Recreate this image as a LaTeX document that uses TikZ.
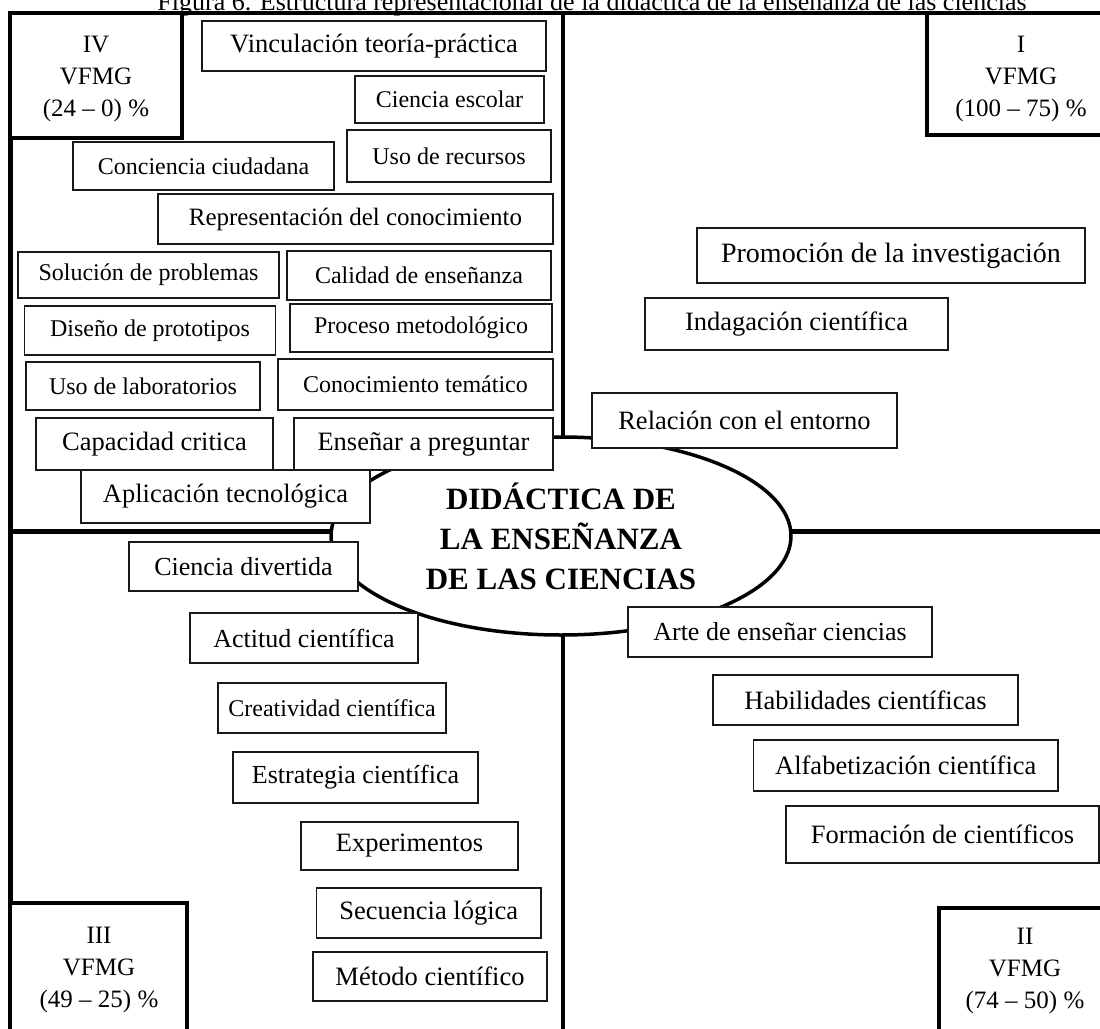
\documentclass[tikz,border=0pt]{standalone}
\usepackage{fontspec}
\setmainfont{Liberation Serif}
\usetikzlibrary{shapes.geometric}
\newcommand\fsz[1]{\fontsize{#1}{#1}\selectfont}

\begin{document}
\begin{tikzpicture}[x=1pt,y=-1pt,
  rule/.style={line width=4.5pt},
  card/.style={draw=black!90, line width=1.8pt, fill=white, inner sep=0pt, align=center},
  zone/.style={draw, line width=4.5pt, fill=white, inner sep=0pt},
  zonetext/.style={inner sep=0pt, align=center, font=\fontsize{25}{32}\selectfont},
  core/.style={ellipse, draw, line width=3.5pt, fill=white, inner sep=0pt, align=center,
    font=\fontsize{31}{40}\selectfont\bfseries}]

\useasboundingbox (0,0) rectangle (1100,1028);
\clip (0,0) rectangle (1100,1028);

% caption line
\node[anchor=base, font=\fsz{26}, inner sep=0pt] (caption) at (592,10)
  {Figura 6. Estructura representacional de la didáctica de la enseñanza de las ciencias};

% frame and quadrant axes
\coordinate (fbl) at (10.5,1040);
\coordinate (ftl) at (10.5,13);
\coordinate (ftr) at (1110,13);
\coordinate (vtop) at (563,13);
\coordinate (vbot) at (563,1040);
\coordinate (hleft) at (10.5,531.5);
\coordinate (hright) at (1110,531.5);
\draw[rule] (fbl) -- (ftl) -- (ftr);
\draw[rule] (vtop) -- (vbot);
\draw[rule] (hleft) -- (hright);

% central ellipse
\node[core, minimum width=460pt, minimum height=198pt] (core) at (561,536)
  {DIDÁCTICA DE\\LA ENSEÑANZA\\DE LAS CIENCIAS};

% quadrant IV
\node[card, minimum width=344pt, minimum height=50pt, font=\fsz{26.5}] (vinc) at (374,46) {Vinculación teoría-práctica};
\node[card, minimum width=189pt, minimum height=47pt, font=\fsz{24}] (escolar) at (449.5,99.5) {Ciencia escolar};
\node[card, minimum width=204pt, minimum height=52pt, font=\fsz{24}] (recursos) at (449,156) {Uso de recursos};
\node[card, minimum width=261pt, minimum height=48pt, font=\fsz{24}] (conciencia) at (203.5,166) {Conciencia ciudadana};
\node[card, minimum width=395pt, minimum height=50pt, font=\fsz{25}] (represent) at (355.5,219) {Representación del conocimiento};
\node[card, minimum width=261pt, minimum height=46pt, font=\fsz{24}] (solucion) at (148.5,275) {Solución de problemas};
\node[card, minimum width=264pt, minimum height=49pt, font=\fsz{24}] (calidad) at (419,275.5) {Calidad de enseñanza};
\node[card, minimum width=251pt, minimum height=49pt, font=\fsz{24}] (diseno) at (150,330.5) {Diseño de prototipos};
\node[card, minimum width=262pt, minimum height=48pt, font=\fsz{24}] (proceso) at (421,328) {Proceso metodológico};
\node[card, minimum width=234pt, minimum height=48pt, font=\fsz{24}] (labs) at (143,386) {Uso de laboratorios};
\node[card, minimum width=275pt, minimum height=51pt, font=\fsz{24}] (tematico) at (415.5,384.5) {Conocimiento temático};
\node[card, minimum width=237pt, minimum height=52pt, font=\fsz{26.5}] (critica) at (154.5,444) {Capacidad critica};
\node[card, minimum width=259pt, minimum height=52pt, font=\fsz{26.5}] (preguntar) at (423.5,444) {Enseñar a preguntar};
\node[card, minimum width=289pt, minimum height=53pt, font=\fsz{26.5}] (aplicacion) at (225.5,496.5) {Aplicación tecnológica};

% quadrant I
\node[card, minimum width=388pt, minimum height=55pt, font=\fsz{28}] (promocion) at (891,255.5) {Promoción de la investigación};
\node[card, minimum width=303pt, minimum height=52pt, font=\fsz{26.5}] (indagacion) at (796.5,324) {Indagación científica};
\node[card, minimum width=305pt, minimum height=55pt, font=\fsz{26.5}] (relacion) at (744.5,420.5) {Relación con el entorno};

% quadrant II
\node[card, minimum width=304pt, minimum height=50pt, font=\fsz{26}] (arte) at (780,632) {Arte de enseñar ciencias};
\node[card, minimum width=305pt, minimum height=50pt, font=\fsz{26.5}] (habilidades) at (865.5,700) {Habilidades científicas};
\node[card, minimum width=304.5pt, minimum height=51pt, font=\fsz{26.5}] (alfabet) at (905.75,765.5) {Alfabetización científica};
\node[card, minimum width=313pt, minimum height=57pt, font=\fsz{26.5}] (formacion) at (942.5,834.5) {Formación de científicos};

% quadrant III
\node[card, minimum width=229pt, minimum height=49pt, font=\fsz{26}] (divertida) at (243.5,566.5) {Ciencia divertida};
\node[card, minimum width=228pt, minimum height=50pt, font=\fsz{26}] (actitud) at (304,638) {Actitud científica};
\node[card, minimum width=228pt, minimum height=50pt, font=\fsz{24}] (creatividad) at (332,708) {Creatividad científica};
\node[card, minimum width=245pt, minimum height=51pt, font=\fsz{26}] (estrategia) at (355.5,777.5) {Estrategia científica};
\node[card, minimum width=217pt, minimum height=48pt, font=\fsz{26.5}] (experimentos) at (409.5,846) {Experimentos};
\node[card, minimum width=224.5pt, minimum height=50pt, font=\fsz{26.5}] (secuencia) at (428.75,913) {Secuencia lógica};
\node[card, minimum width=234pt, minimum height=49pt, font=\fsz{26.5}] (metodo) at (430,976.5) {Método científico};

% quadrant label boxes
\node[zone, minimum width=172pt, minimum height=125pt] (qIV) at (96,75.5) {};
\node[zone, minimum width=188pt, minimum height=122pt] (qI) at (1021,74) {};
\node[zone, minimum width=177pt, minimum height=132pt] (qIII) at (98.5,969) {};
\node[zone, minimum width=172pt, minimum height=127pt] (qII) at (1025,971.5) {};
\node[zonetext] (tIV) at (96,79) {IV\\VFMG\\(24 – 0) \%};
\node[zonetext] (tI) at (1021,79) {I\\VFMG\\(100 – 75) \%};
\node[zonetext] (tIII) at (99,970) {III\\VFMG\\(49 – 25) \%};
\node[zonetext] (tII) at (1025,971) {II\\VFMG\\(74 – 50) \%};

\end{tikzpicture}
\end{document}
